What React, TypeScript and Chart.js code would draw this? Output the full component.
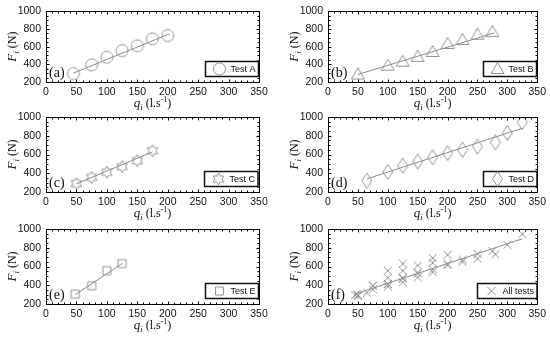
import React, { useEffect, useRef } from "react";
import { Chart, registerables } from "chart.js";

Chart.register(...registerables);

// ---------- data ----------
const X_TICKS = [0, 50, 100, 150, 200, 250, 300, 350];
const Y_TICKS = [200, 400, 600, 800, 1000];

const testA_q = [45, 75, 100, 125, 150, 175, 200];
const testA_F = [295, 395, 480, 555, 610, 690, 725];
const fitA_q = [45, 203];
const fitA_F = [300, 745];

const testB_q = [50, 100, 125, 150, 175, 200, 225, 250, 275];
const testB_F = [285, 385, 430, 485, 540, 630, 675, 735, 765];
const fitB_q = [50, 278];
const fitB_F = [285, 755];

const testC_q = [50, 75, 100, 125, 150, 175];
const testC_F = [290, 355, 410, 470, 535, 640];
const fitC_q = [50, 175];
const fitC_F = [288, 628];

const testD_q = [65, 100, 125, 150, 175, 200, 225, 250, 280, 300, 325];
const testD_F = [320, 415, 480, 525, 570, 615, 650, 685, 730, 830, 945];
const fitD_q = [65, 325];
const fitD_F = [340, 880];

const testE_q = [48, 75, 100, 125];
const testE_F = [305, 395, 555, 630];
const fitE_q = [48, 126];
const fitE_F = [300, 635];

const allTests_q = [...testA_q, ...testB_q, ...testC_q, ...testD_q, ...testE_q];
const allTests_F = [...testA_F, ...testB_F, ...testC_F, ...testD_F, ...testE_F];
const fitAll_q = [45, 325];
const fitAll_F = [305, 895];

const PANEL_LABELS = ["(a)", "(b)", "(c)", "(d)", "(e)", "(f)"];
const LEGEND_LABELS = ["Test A", "Test B", "Test C", "Test D", "Test E", "All tests"];

// ---------- styling / layout ----------
const W = 550;
const H = 341;
const YW = 40;
const XH = 30;
const COLS = [
  { l: 46, r: 259 },
  { l: 328, r: 539 },
];
const ROWS = [
  { t: 7, b: 82 },
  { t: 117, b: 192 },
  { t: 229, b: 304 },
];
const MARK = "#939393";
const LINE = "#8a8a8a";
const TICK_FONT = "'Liberation Sans Narrow', 'Arial Narrow', 'Liberation Sans', Arial, sans-serif";
const SERIF = "'Liberation Serif', 'Times New Roman', serif";

type Kind = "circle" | "triangle" | "hexagram" | "diamond" | "square" | "cross";

function drawMarker(ctx: CanvasRenderingContext2D, kind: Kind, cx: number, cy: number) {
  ctx.save();
  ctx.strokeStyle = MARK;
  ctx.lineWidth = 1;
  ctx.beginPath();
  if (kind === "circle") {
    ctx.arc(cx, cy, 6, 0, Math.PI * 2);
  } else if (kind === "triangle") {
    ctx.moveTo(cx, cy - 6.5);
    ctx.lineTo(cx + 6.5, cy + 4.5);
    ctx.lineTo(cx - 6.5, cy + 4.5);
    ctx.closePath();
  } else if (kind === "hexagram") {
    const R = 6;
    const r = R / Math.sqrt(3);
    for (let k = 0; k < 12; k++) {
      const a = -Math.PI / 2 + (k * Math.PI) / 6;
      const rr = k % 2 === 0 ? R : r;
      const px = cx + rr * Math.cos(a);
      const py = cy + rr * Math.sin(a);
      if (k === 0) ctx.moveTo(px, py);
      else ctx.lineTo(px, py);
    }
    ctx.closePath();
  } else if (kind === "diamond") {
    ctx.moveTo(cx, cy - 7.5);
    ctx.lineTo(cx + 5, cy);
    ctx.lineTo(cx, cy + 7.5);
    ctx.lineTo(cx - 5, cy);
    ctx.closePath();
  } else if (kind === "square") {
    ctx.rect(cx - 4, cy - 4, 8, 8);
  } else {
    ctx.moveTo(cx - 4, cy - 4);
    ctx.lineTo(cx + 4, cy + 4);
    ctx.moveTo(cx + 4, cy - 4);
    ctx.lineTo(cx - 4, cy + 4);
  }
  ctx.stroke();
  ctx.restore();
}

function markerImage(kind: Kind): HTMLCanvasElement {
  const c = document.createElement("canvas");
  c.width = 20;
  c.height = 20;
  const ctx = c.getContext("2d")!;
  drawMarker(ctx, kind, 10, 10);
  return c;
}

type Part = { text: string; font: string; dy?: number };

function drawRich(ctx: CanvasRenderingContext2D, parts: Part[], x: number, y: number, rotate: boolean) {
  ctx.save();
  ctx.translate(x, y);
  if (rotate) ctx.rotate(-Math.PI / 2);
  ctx.fillStyle = "#111";
  ctx.textBaseline = "alphabetic";
  ctx.textAlign = "left";
  const widths = parts.map((p) => {
    ctx.font = p.font;
    return ctx.measureText(p.text).width;
  });
  const total = widths.reduce((a, b) => a + b, 0);
  let cx = -total / 2;
  parts.forEach((p, i) => {
    ctx.font = p.font;
    ctx.fillText(p.text, cx, p.dy || 0);
    cx += widths[i];
  });
  ctx.restore();
}

const framePlugin = {
  id: "frame",
  afterDatasetsDraw(chart: any, _args: any, opts: any) {
    const ctx: CanvasRenderingContext2D = chart.ctx;
    const a = chart.chartArea;
    const xs = chart.scales.x;
    const ys = chart.scales.y;
    ctx.save();
    ctx.strokeStyle = "#000";
    ctx.lineWidth = 1;
    const L = Math.round(a.left) + 0.5;
    const R = Math.round(a.right) + 0.5;
    const T = Math.round(a.top) + 0.5;
    const B = Math.round(a.bottom) + 0.5;
    ctx.beginPath();
    ctx.rect(L, T, R - L, B - T);
    ctx.stroke();
    ctx.beginPath();
    for (let v = 0; v <= 350; v += 10) {
      const px = Math.round(xs.getPixelForValue(v)) + 0.5;
      const len = v % 50 === 0 ? 3 : 2;
      ctx.moveTo(px, B);
      ctx.lineTo(px, B - len);
      ctx.moveTo(px, T);
      ctx.lineTo(px, T + len);
    }
    for (let v = 200; v <= 1000; v += 50) {
      const py = Math.round(ys.getPixelForValue(v)) + 0.5;
      const len = v % 200 === 0 ? 3 : 2;
      ctx.moveTo(L, py);
      ctx.lineTo(L + len, py);
      ctx.moveTo(R, py);
      ctx.lineTo(R - len, py);
    }
    ctx.stroke();

    // panel label
    ctx.fillStyle = "#111";
    ctx.font = `14px ${SERIF}`;
    ctx.textBaseline = "alphabetic";
    ctx.textAlign = "left";
    ctx.fillText(opts.label, a.left + 3, a.bottom - 5);

    // legend box
    ctx.font = `9px ${TICK_FONT}`;
    const tw = ctx.measureText(opts.legend).width;
    const bw = 25 + tw + 3;
    const bx = Math.round(a.right - 1 - bw) + 0.5;
    const by = Math.round(a.bottom - 21) + 0.5;
    ctx.fillStyle = "#fff";
    ctx.fillRect(bx, by, bw, 15);
    ctx.lineWidth = 1.5;
    ctx.strokeStyle = "#111";
    ctx.strokeRect(bx, by, bw, 15);
    drawMarker(ctx, opts.kind, bx + 14, by + 7.5);
    ctx.fillStyle = "#111";
    ctx.textBaseline = "middle";
    ctx.fillText(opts.legend, bx + 25, by + 8);

    // axis titles
    drawRich(
      ctx,
      [
        { text: "F", font: `italic 13px ${SERIF}` },
        { text: "i", font: `italic 9px ${SERIF}`, dy: 3 },
        { text: " (N)", font: `12px ${SERIF}` },
      ],
      a.left - 30,
      (a.top + a.bottom) / 2,
      true
    );
    drawRich(
      ctx,
      [
        { text: "q", font: `italic 13px ${SERIF}` },
        { text: "i", font: `italic 9px ${SERIF}`, dy: 3 },
        { text: " (l.s", font: `12px ${SERIF}` },
        { text: "-1", font: `8px ${SERIF}`, dy: -5 },
        { text: ")", font: `12px ${SERIF}` },
      ],
      (a.left + a.right) / 2,
      a.bottom + 25,
      false
    );
    ctx.restore();
  },
};

type PanelDef = {
  q: number[];
  F: number[];
  fq: number[];
  fF: number[];
  kind: Kind;
};

const PANELS: PanelDef[] = [
  { q: testA_q, F: testA_F, fq: fitA_q, fF: fitA_F, kind: "circle" },
  { q: testB_q, F: testB_F, fq: fitB_q, fF: fitB_F, kind: "triangle" },
  { q: testC_q, F: testC_F, fq: fitC_q, fF: fitC_F, kind: "hexagram" },
  { q: testD_q, F: testD_F, fq: fitD_q, fF: fitD_F, kind: "diamond" },
  { q: testE_q, F: testE_F, fq: fitE_q, fF: fitE_F, kind: "square" },
  { q: allTests_q, F: allTests_F, fq: fitAll_q, fF: fitAll_F, kind: "cross" },
];

function Panel({ idx }: { idx: number }) {
  const ref = useRef<HTMLCanvasElement>(null);
  useEffect(() => {
    const p = PANELS[idx];
    const col = COLS[idx % 2];
    const row = ROWS[Math.floor(idx / 2)];
    const img = markerImage(p.kind);
    const tickFont = { family: TICK_FONT, size: 10.5 };
    const chart = new Chart(ref.current!, {
      type: "scatter",
      data: {
        datasets: [
          {
            data: p.q.map((q, i) => ({ x: q, y: p.F[i] })),
            pointStyle: img as any,
            pointRadius: 7,
            showLine: false,
            order: 1,
          },
          {
            data: p.fq.map((q, i) => ({ x: q, y: p.fF[i] })),
            showLine: true,
            pointRadius: 0,
            borderColor: LINE,
            borderWidth: 1,
            order: 2,
          },
        ],
      },
      options: {
        responsive: false,
        animation: false,
        events: [],
        layout: {
          padding: {
            left: col.l - YW,
            right: W - col.r,
            top: row.t,
            bottom: H - row.b - XH,
          },
        },
        plugins: {
          legend: { display: false },
          tooltip: { enabled: false },
          frame: { label: PANEL_LABELS[idx], legend: LEGEND_LABELS[idx], kind: p.kind },
        } as any,
        scales: {
          x: {
            type: "linear",
            min: 0,
            max: 350,
            afterBuildTicks: (s: any) => {
              s.ticks = X_TICKS.map((v) => ({ value: v }));
            },
            afterFit: (s: any) => {
              s.height = XH;
            },
            grid: { display: false, drawTicks: false },
            border: { display: false },
            ticks: {
              padding: 4,
              font: tickFont,
              color: "#111",
              maxRotation: 0,
              autoSkip: false,
              callback: (v: any) => String(v),
            },
          },
          y: {
            type: "linear",
            min: 200,
            max: 1000,
            afterBuildTicks: (s: any) => {
              s.ticks = Y_TICKS.map((v) => ({ value: v }));
            },
            afterFit: (s: any) => {
              s.width = YW;
            },
            grid: { display: false, drawTicks: false },
            border: { display: false },
            ticks: {
              padding: 5,
              font: tickFont,
              color: "#111",
              autoSkip: false,
              callback: (v: any) => String(v),
            },
          },
        },
      },
      plugins: [framePlugin],
    });
    return () => chart.destroy();
  }, [idx]);
  return (
    <canvas
      ref={ref}
      width={W}
      height={H}
      style={{ position: "absolute", left: 0, top: 0, width: W, height: H }}
    />
  );
}

export default function App() {
  return (
    <div style={{ position: "fixed", left: 0, top: 0, width: W, height: H, background: "#fff" }}>
      {PANELS.map((_, i) => (
        <Panel key={i} idx={i} />
      ))}
    </div>
  );
}
